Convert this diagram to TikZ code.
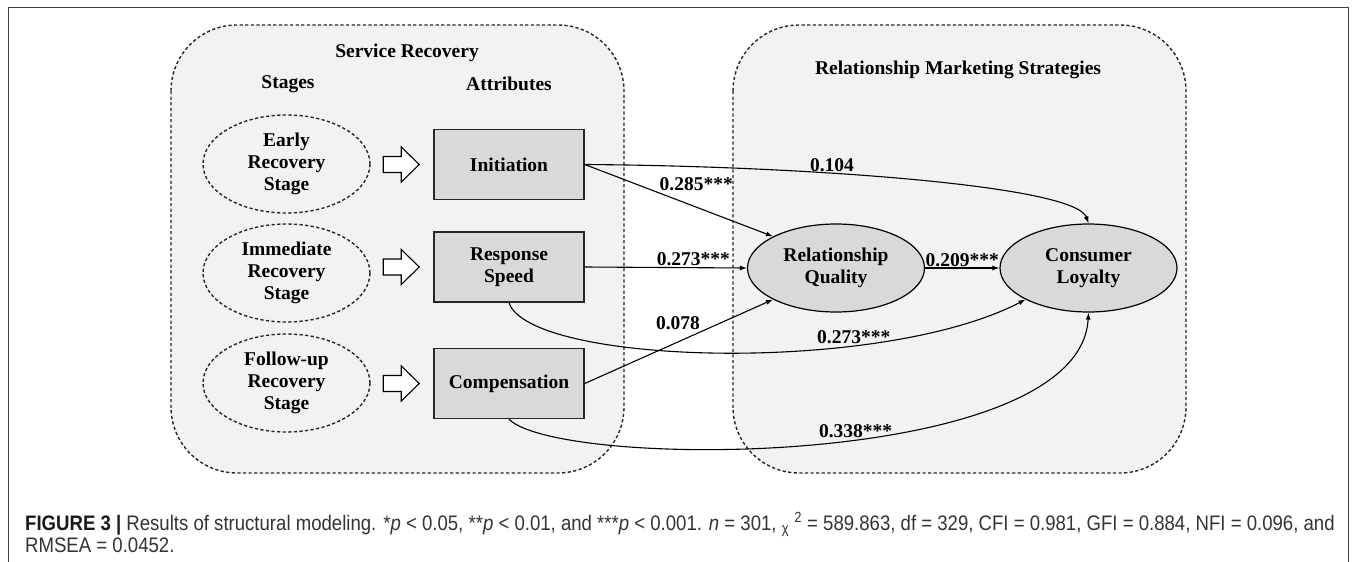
\documentclass[tikz,border=0pt]{standalone}
\usepackage{fontspec}
\setmainfont{Liberation Serif}
\newfontfamily\capfont[FakeStretch=0.885]{Liberation Sans}
\usetikzlibrary{positioning,arrows.meta,shapes.geometric}

\tikzset{
  lbl/.style={font=\fontsize{19.5}{22}\selectfont\bfseries, inner sep=1pt},
  group/.style={draw=black!85, fill=black!5, line width=1.4pt, dash pattern=on 3.2pt off 2.4pt, rounded corners=66pt},
  stagenode/.style={lbl, ellipse, draw=black!85, fill=black!5, line width=1.4pt, dash pattern=on 3.2pt off 2.4pt,
    minimum width=167pt, minimum height=98pt, inner sep=0pt, align=center},
  attr/.style={lbl, rectangle, draw=black!85, fill=black!15, line width=1.5pt,
    minimum width=150pt, minimum height=70pt, align=center},
  latent/.style={lbl, ellipse, draw=black, fill=black!15, line width=1.2pt,
    minimum width=177pt, minimum height=88pt, inner sep=0pt, align=center},
  arr/.style={-{Latex[length=7pt,width=5pt]}, line width=1.1pt},
  fat/.style={draw=black, fill=white, line width=1.1pt, line join=miter},
  capt/.style={font=\capfont\fontsize{21}{22}\selectfont, text=black!80, inner sep=0pt, anchor=base west},
}

\begin{document}
\begin{tikzpicture}[x=1pt, y=-1pt]
\useasboundingbox (0,0) rectangle (1357,562);
% frame and groups
\draw[black!75, line width=0.8pt] (8,562) -- (8,7) -- (1348,7) -- (1348,562);
\draw[group] (171,25) rectangle (624,473);
\draw[group] (733,25) rectangle (1186,473);
\node[lbl] (srtitle) at (407,53) {Service Recovery};
\node[lbl] (stages) at (288,84) {Stages};
\node[lbl] (attribs) at (509,84) {Attributes};
\node[lbl] (rmtitle) at (958,70) {Relationship Marketing Strategies};

% stages and attributes
\node[stagenode] (early) at (286.5,164) {Early\\Recovery\\Stage};
\node[stagenode] (immediate) at (286.5,273) {Immediate\\Recovery\\Stage};
\node[stagenode] (followup) at (286.5,383) {Follow-up\\Recovery\\Stage};
\node[attr] (init) at (509,164.5) {Initiation};
\node[attr] (speed) at (509,267) {Response\\Speed};
\node[attr] (comp) at (509,383.5) {Compensation};
\foreach \a in {init,speed,comp}
  \draw[fat] ([xshift=-14pt]\a.west) -- ++(-18,-17.5) -- ++(0,9.5) -- ++(-18,0)
    -- ++(0,16) -- ++(18,0) -- ++(0,9.5) -- cycle;

% outcomes
\node[latent] (rq) at (836,268) {Relationship\\Quality};
\node[latent] (cl) at (1088.5,268) {Consumer\\Loyalty};

\path[arr]
  (init.east) edge node[lbl, pos=0.39, above right] {0.285***} (rq.north west)
  (speed.east) edge node[lbl, pos=0.67, above] {0.273***} (rq.west)
  (comp.east) edge node[lbl, pos=0.62, above left] {0.078} (rq.south west)
  (rq.east) edge node[lbl, above] {0.209***} (cl.west);
\draw[arr] (init.east) .. controls (800,166) and (1075,185) .. (cl.north)
  node[lbl, pos=0.37, above] {0.104};
\draw[arr] (speed.south) .. controls (530,365) and (880,375) .. (cl.south west)
  node[lbl, pos=0.7, above] {0.273***};
\draw[arr] (comp.south) .. controls (560,470) and (1080,470) .. (cl.south)
  node[lbl, pos=0.55, above] {0.338***};

% caption
\node[capt] (cap1) at (25,530) {\textbf{\color{black!90}FIGURE 3 |} Results of structural modeling.
  *\textit{p} < 0.05, **\textit{p} < 0.01, and ***\textit{p} < 0.001. \textit{n} = 301,
  \textsubscript{χ} \textsuperscript{2} = 589.863, df = 329, CFI = 0.981, GFI = 0.884, NFI = 0.096, and};
\node[capt] (cap2) at ([yshift=-22pt]cap1.base west) {RMSEA = 0.0452.};
\end{tikzpicture}
\end{document}
